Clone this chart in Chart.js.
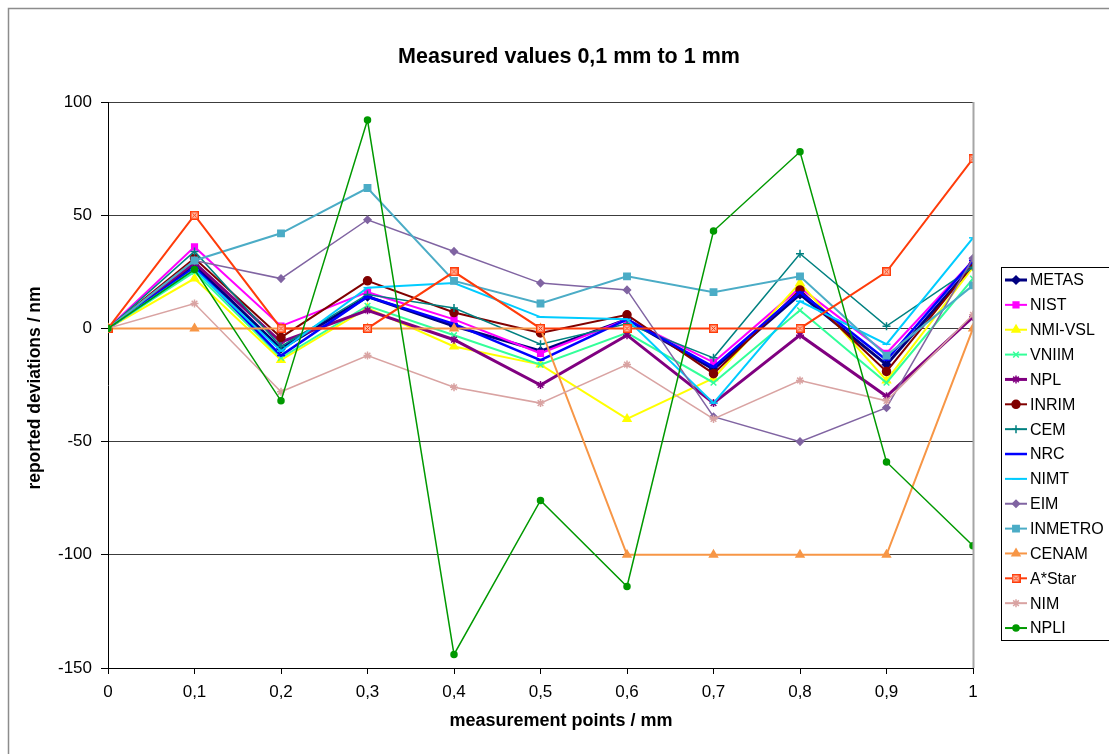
<!DOCTYPE html>
<html>
<head>
<meta charset="utf-8">
<title>Measured values 0,1 mm to 1 mm</title>
<script src="https://cdn.jsdelivr.net/npm/chart.js@4/dist/chart.umd.min.js"></script>
<style>
  html, body { margin: 0; padding: 0; background: #ffffff; }
  canvas { display: block; }
</style>
</head>
<body>
<canvas id="chart" width="1109" height="754"></canvas>
<script>
// Measurement points (mm) and their axis labels
const points = [0, 0.1, 0.2, 0.3, 0.4, 0.5, 0.6, 0.7, 0.8, 0.9, 1];
const xTickLabels = ['0', '0,1', '0,2', '0,3', '0,4', '0,5', '0,6', '0,7', '0,8', '0,9', '1'];
const yTickValues = [100, 50, 0, -50, -100, -150];

// Reported deviations per laboratory (nm)
const METAS   = [0, 28,  -9, 14,    1, -10,    4, -18,  15, -16,  28];
const NIST    = [0, 36,   1, 16,    4, -11,    4, -15,  18, -11,  30];
const NMI_VSL = [0, 22, -14,  9,   -8, -16,  -40, -22,  20, -23,  27];
const VNIIM   = [0, 25, -13, 10,   -3, -16,   -2, -24,   8, -24,  22];
const NPL     = [0, 29,  -6,  8,   -5, -25,   -3, -33,  -3, -30,   5];
const INRIM   = [0, 31,  -4, 21,    7,  -2,    6, -20,  17, -19,  28];
const CEM     = [0, 34,  -8, 15,    9,  -7,    2, -13,  33,   1,  27];
const NRC     = [0, 27, -12, 14,    2, -14,    4, -17,  16, -14,  30];
const NIMT    = [0, 26, -10, 18,   20,   5,    4, -33,  12,  -7,  40];
const EIM     = [0, 30,  22, 48,   34,  20,   17, -39, -50, -35,  31];
const INMETRO = [0, 30,  42, 62,   21,  11,   23,  16,  23, -12,  19];
const CENAM   = [0,  0,   0,  0,    0,   0, -100, -100, -100, -100, 0];
const ASTAR   = [0, 50,   0,  0,   25,   0,    0,   0,   0,  25,  75];
const NIM     = [0, 11, -28, -12, -26, -33,  -16, -40, -23, -32,   6];
const NPLI    = [0, 26, -32, 92, -144, -76, -114,  43,  78, -59, -96];

const seriesNames = ['METAS', 'NIST', 'NMI-VSL', 'VNIIM', 'NPL', 'INRIM', 'CEM', 'NRC',
                     'NIMT', 'EIM', 'INMETRO', 'CENAM', 'A*Star', 'NIM', 'NPLI'];
const seriesValues = [METAS, NIST, NMI_VSL, VNIIM, NPL, INRIM, CEM, NRC,
                      NIMT, EIM, INMETRO, CENAM, ASTAR, NIM, NPLI];

// Square marker with a diagonal cross inside
function crossedBox(color) {
  const c = document.createElement('canvas');
  c.width = 9; c.height = 9;
  const g = c.getContext('2d');
  g.fillStyle = '#ffb9a3';
  g.fillRect(0, 0, 9, 9);
  g.strokeStyle = color;
  g.lineWidth = 1.5;
  g.strokeRect(0.75, 0.75, 7.5, 7.5);
  g.lineWidth = 1;
  g.beginPath();
  g.moveTo(2.5, 2.5); g.lineTo(6.5, 6.5);
  g.moveTo(6.5, 2.5); g.lineTo(2.5, 6.5);
  g.stroke();
  return c;
}

const styles = [
  { color: '#000080', width: 3,   point: 'rectRot',  r: 4 },
  { color: '#FF00FF', width: 2,   point: 'rect',     r: 4 },
  { color: '#FFFF00', width: 2,   point: 'triangle', r: 4.5 },
  { color: '#33FF99', width: 2,   point: 'crossRot', r: 4 },
  { color: '#800080', width: 3,   point: 'star',     r: 4 },
  { color: '#800000', width: 2,   point: 'circle',   r: 4 },
  { color: '#008080', width: 1.5, point: 'cross',    r: 4 },
  { color: '#0000FF', width: 2.5, point: 'line',     r: 4 },
  { color: '#00CCFF', width: 2,   point: 'line',     r: 4 },
  { color: '#8064A2', width: 1.5, point: 'rectRot',  r: 3.5 },
  { color: '#4BACC6', width: 2,   point: 'rect',     r: 4.5 },
  { color: '#F79646', width: 2,   point: 'triangle', r: 4.5 },
  { color: '#FF3C0A', width: 2,   point: null,       r: 4.5 },
  { color: '#D9A3A2', width: 1.5, point: 'star',     r: 4 },
  { color: '#009900', width: 1.5, point: 'circle',   r: 3 }
];
styles[12].point = crossedBox(styles[12].color);

const datasets = seriesNames.map((name, i) => ({
  label: name,
  data: points.map((x, k) => ({ x: x, y: seriesValues[i][k] })),
  borderColor: styles[i].color,
  backgroundColor: styles[i].color,
  borderWidth: styles[i].width,
  pointStyle: styles[i].point,
  pointRadius: styles[i].r,
  pointBorderWidth: 1.5,
  pointBorderColor: styles[i].color,
  pointBackgroundColor: styles[i].color,
  tension: 0,
  fill: false,
  order: seriesNames.length - i   // later series drawn on top
}));

const FONT = '"Liberation Sans", Arial, sans-serif';

// Frame, title, axis titles, plot border and legend
const decorations = {
  id: 'decorations',
  afterDraw(chart) {
    const ctx = chart.ctx;
    const area = chart.chartArea;
    ctx.save();

    // outer frame
    ctx.strokeStyle = '#8c8c8c';
    ctx.lineWidth = 1.5;
    ctx.strokeRect(8.5, 8.5, 1300, 1300);

    // right edge of plot area
    ctx.strokeStyle = '#a6a6a6';
    ctx.lineWidth = 2;
    ctx.beginPath();
    ctx.moveTo(area.right + 0.5, area.top);
    ctx.lineTo(area.right + 0.5, area.bottom);
    ctx.stroke();

    // chart title
    ctx.fillStyle = '#000';
    ctx.textAlign = 'center';
    ctx.textBaseline = 'middle';
    ctx.font = 'bold 21.5px ' + FONT;
    ctx.fillText('Measured values 0,1 mm to 1 mm', 569, 57);

    // axis titles
    ctx.font = 'bold 18px ' + FONT;
    ctx.fillText('measurement points / mm', 561, 721);
    ctx.font = 'bold 17.5px ' + FONT;
    ctx.save();
    ctx.translate(35, 388);
    ctx.rotate(-Math.PI / 2);
    ctx.fillText('reported deviations / nm', 0, 0);
    ctx.restore();

    // legend
    const lx = 1001, ly = 267, lh = 373;
    ctx.fillStyle = '#fff';
    ctx.fillRect(lx, ly, 120, lh);
    ctx.strokeStyle = '#000';
    ctx.lineWidth = 1;
    ctx.strokeRect(lx + 0.5, ly + 0.5, 120, lh);
    ctx.font = '16px ' + FONT;
    ctx.textAlign = 'left';
    ctx.textBaseline = 'middle';
    seriesNames.forEach((name, i) => {
      const y = 280 + i * 24.86;
      const s = styles[i];
      ctx.strokeStyle = s.color;
      ctx.lineWidth = Math.max(2, s.width);
      ctx.beginPath();
      ctx.moveTo(1005, y);
      ctx.lineTo(1027, y);
      ctx.stroke();
      ctx.fillStyle = s.color;
      ctx.strokeStyle = s.color;
      ctx.lineWidth = 1.5;
      Chart.helpers.drawPoint(ctx, { pointStyle: s.point, radius: s.r, rotation: 0, borderWidth: 1.5 }, 1016, y);
      ctx.fillStyle = '#000';
      ctx.fillText(name, 1030, y + 1);
    });
    ctx.restore();
  }
};

new Chart(document.getElementById('chart'), {
  type: 'line',
  data: { datasets: datasets },
  plugins: [decorations],
  options: {
    responsive: false,
    animation: false,
    events: [],
    layout: { padding: { left: 0, top: 102, right: 136, bottom: 0 } },
    plugins: {
      legend: { display: false },
      tooltip: { enabled: false },
      title: { display: false }
    },
    scales: {
      x: {
        type: 'linear',
        min: 0,
        max: 1,
        afterBuildTicks: (scale) => { scale.ticks = points.map(v => ({ value: v })); },
        afterFit: (scale) => { scale.height = 86; },
        ticks: {
          autoSkip: false,
          maxRotation: 0,
          color: '#000',
          padding: 8,
          font: { family: FONT, size: 17 },
          callback: (value, index) => xTickLabels[index]
        },
        grid: { drawOnChartArea: false, drawTicks: true, tickLength: 6, tickColor: '#000' },
        border: { color: '#000', width: 1 }
      },
      y: {
        min: -150,
        max: 100,
        afterBuildTicks: (scale) => { scale.ticks = yTickValues.map(v => ({ value: v })); },
        afterFit: (scale) => { scale.width = 108; },
        ticks: {
          color: '#000',
          padding: 9,
          font: { family: FONT, size: 17 }
        },
        grid: { color: '#3c3c3c', lineWidth: 1, tickLength: 7, tickColor: '#000' },
        border: { color: '#000', width: 1 }
      }
    }
  }
});
</script>
</body>
</html>
